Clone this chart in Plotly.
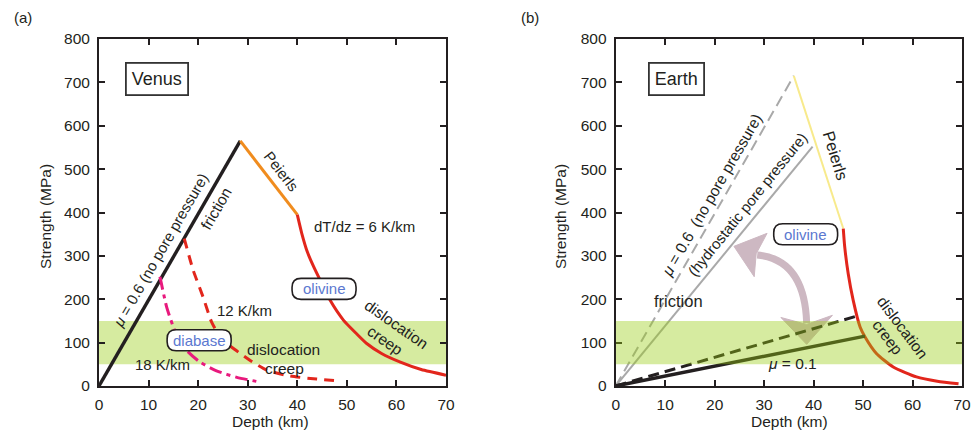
import plotly.graph_objects as go

# ---------------- data ----------------
depth_ticks = [0, 10, 20, 30, 40, 50, 60, 70]
strength_ticks = [0, 100, 200, 300, 400, 500, 600, 700, 800]
band_strength = [50, 150]

# Venus (a)
venus_friction_depth = [0, 28.5]
venus_friction_strength = [0, 565]
venus_peierls_depth = [28.5, 40]
venus_peierls_strength = [565, 395]
venus_creep6_depth = [40, 40.9, 42, 43.3, 45, 46.6, 49.3, 52, 54, 57, 60.8, 65, 70]
venus_creep6_strength = [395, 352, 310, 275, 235, 198, 152, 120, 98, 75, 55, 38, 25]
venus_creep12_depth = [17.2, 19.0, 21.0, 22.7, 24.75, 27.4, 30.5, 33.8, 38.5, 43.9, 47.95]
venus_creep12_strength = [340, 267, 205, 148, 108, 84, 59, 37, 23, 16, 12]
venus_creep18_depth = [12.3, 13.65, 15.3, 17.7, 20.4, 23.7, 27.8, 32.5]
venus_creep18_strength = [252, 182, 128, 82, 55, 35, 20, 9]

# Earth (b)
earth_nopore_depth = [0, 36]
earth_nopore_strength = [0, 715]
earth_hydro_depth = [0, 39.8]
earth_hydro_strength = [0, 552]
earth_peierls_depth = [36, 46]
earth_peierls_strength = [715, 363]
earth_creep_depth = [46, 46.3, 47, 48, 49.4, 50.4, 52.7, 56.1, 60.8, 65, 69.3]
earth_creep_strength = [363, 320, 259, 198, 136, 113, 75, 44, 21, 11, 5]
earth_mu01_depth = [0, 50.4]
earth_mu01_strength = [0, 115]
earth_mu01dash_depth = [0, 48.7]
earth_mu01dash_strength = [0, 161]

# ---------------- layout geometry ----------------
W, H = 977, 433
XD1 = [99 / W, 446 / W]
XD2 = [615.7 / W, 962 / W]
YD = [1 - 386 / H, 1 - 39 / H]
PX_X = 347 / 70.0
PX_Y = 347 / 800.0

BLACK = "#231f20"
RED = "#e2261c"
ORANGE = "#f08c1e"
PINK = "#e8197d"
GRAY = "#a9a9a9"
YELLOW = "#f8ea8c"
BLUE = "#5b78d0"
FONT = "Liberation Sans"

fig = go.Figure()

def line(x, y, color, width, dash="solid", ax=1):
    fig.add_trace(go.Scatter(
        x=x, y=y, mode="lines", line=dict(color=color, width=width, dash=dash, shape="spline", smoothing=0.6),
        xaxis="x" if ax == 1 else "x2", yaxis="y" if ax == 1 else "y2",
        hoverinfo="skip", showlegend=False))

# panel a
line(venus_friction_depth, venus_friction_strength, BLACK, 3.4)
line(venus_peierls_depth, venus_peierls_strength, ORANGE, 3)
line(venus_creep6_depth, venus_creep6_strength, RED, 3)
line(venus_creep12_depth, venus_creep12_strength, RED, 3, "10px,7px")
line(venus_creep18_depth, venus_creep18_strength, PINK, 3, "13px,5px,4px,5px")

# panel b
line(earth_nopore_depth, earth_nopore_strength, GRAY, 2, "11px,6px", 2)
line(earth_hydro_depth, earth_hydro_strength, GRAY, 2, "solid", 2)
line(earth_peierls_depth, earth_peierls_strength, YELLOW, 2, "solid", 2)
line(earth_creep_depth, earth_creep_strength, RED, 3, "solid", 2)
line(earth_mu01dash_depth, earth_mu01dash_strength, BLACK, 3, "11px,6px", 2)
line(earth_mu01_depth, earth_mu01_strength, BLACK, 3.4, "solid", 2)

shapes = []
# green band (a): below traces
shapes.append(dict(type="rect", xref="x", yref="y", x0=0, x1=70, y0=band_strength[0], y1=band_strength[1],
                   fillcolor="rgb(214,235,160)", line=dict(width=0), layer="below"))

# curved double arrow (b)
ARROW = "rgb(205,184,194)"
arrow_top = [(23.9, 322.0), (30.6, 352.0), (28.4, 305.0), (28.0, 252.0)]
arrow_bot = [(38.6, 96.0), (33.4, 158.0), (38.6, 142.0), (43.8, 163.0)]
arrow_shaft = [(28.6, 302.0), (38.2, 292.0), (38.6, 145.0)]
p = arrow_shaft
shapes.append(dict(type="path", xref="x2", yref="y2",
                   path=f"M {p[0][0]},{p[0][1]} Q {p[1][0]},{p[1][1]} {p[2][0]},{p[2][1]}",
                   line=dict(color=ARROW, width=7), layer="below"))
for tri in (arrow_top, arrow_bot):
    path = "M " + " L ".join(f"{a},{b}" for a, b in tri) + " Z"
    shapes.append(dict(type="path", xref="x2", yref="y2", path=path,
                       fillcolor=ARROW, line=dict(color=ARROW, width=1), layer="below"))

# rounded label boxes
def rbox(xc, yc, wpx, hpx, rpx, ax):
    hw = wpx / 2 / PX_X; hh = hpx / 2 / PX_Y
    rx = rpx / PX_X; ry = rpx / PX_Y
    x0, x1, y0, y1 = xc - hw, xc + hw, yc - hh, yc + hh
    path = (f"M {x0+rx},{y0} L {x1-rx},{y0} Q {x1},{y0} {x1},{y0+ry} L {x1},{y1-ry} "
            f"Q {x1},{y1} {x1-rx},{y1} L {x0+rx},{y1} Q {x0},{y1} {x0},{y1-ry} "
            f"L {x0},{y0+ry} Q {x0},{y0} {x0+rx},{y0} Z")
    return dict(type="path", xref="x" if ax == 1 else "x2", yref="y" if ax == 1 else "y2",
                path=path, fillcolor="white", line=dict(color=BLACK, width=1.6), layer="above")

shapes.append(rbox(45.4, 224, 64, 21, 9, 1))
shapes.append(rbox(20.2, 105.5, 64, 21, 9, 1))
shapes.append(rbox(38.4, 350, 64, 21, 9, 2))

# green band (b): translucent, above traces
shapes.append(dict(type="rect", xref="x2", yref="y2", x0=0, x1=70, y0=band_strength[0], y1=band_strength[1],
                   fillcolor="rgb(152,205,18)", opacity=0.4, line=dict(width=0), layer="above"))

fig.update_layout(shapes=shapes)

ann = []
def T(text, x, y, ax=1, size=15, angle=0, color=BLACK, **kw):
    d = dict(text=text, x=x, y=y, xref="x" if ax == 1 else "x2", yref="y" if ax == 1 else "y2",
             showarrow=False, textangle=angle, font=dict(family=FONT, size=size, color=color),
             xanchor="center", yanchor="middle")
    d.update(kw)
    ann.append(d)

# panel a text
T("<i>μ</i> = 0.6 (no pore pressure)", 12.5, 314, 1, 15, -60)
T("friction", 23.6, 410, 1, 15.5, -60)
T("Peierls", 36.8, 493.5, 1, 15, 52)
T("dT/dz = 6 K/km", 53.5, 368.8, 1, 15)
T("olivine", 45.4, 224, 1, 15, 0, BLUE)
T("dislocation", 60.05, 142.5, 1, 15.5, 35)
T("creep", 57.8, 106, 1, 15.5, 35)
T("12 K/km", 29.45, 173, 1, 15)
T("diabase", 20.2, 105.5, 1, 15, 0, BLUE)
T("dislocation", 37.3, 84, 1, 15.5)
T("creep", 37.5, 39.3, 1, 15.5)
T("18 K/km", 12.85, 50, 1, 15)
T("Venus", 11.8, 706.7, 1, 18, bordercolor="#333", borderwidth=1.8, borderpad=5, bgcolor="white")

# panel b text
T("<i>μ</i> = 0.6  (no pore pressure)", 19.3, 440, 2, 15.5, -60)
T("(hydrostatic pore pressure)", 26.6, 418, 2, 15, -51)
T("friction", 12.77, 195.6, 2, 16.5)
T("Peierls", 44.45, 532.8, 2, 16.5, 73)
T("olivine", 38.4, 350, 2, 15, 0, BLUE)
T("dislocation", 58.0, 135, 2, 15.5, 53)
T("creep", 55.0, 111.7, 2, 15.5, 53)
T("<i>μ</i> = 0.1", 35.8, 51.7, 2, 15.5)
T("Earth", 12.27, 707, 2, 18, bordercolor="#333", borderwidth=1.8, borderpad=5, bgcolor="white")

# panel labels and axis titles (paper coords)
def P(text, px, py, size=15, angle=0):
    ann.append(dict(text=text, x=px / W, y=1 - py / H, xref="paper", yref="paper", showarrow=False,
                    textangle=angle, font=dict(family=FONT, size=size, color=BLACK),
                    xanchor="center", yanchor="middle"))

P("(a)", 23, 17)
P("(b)", 530, 17)
P("Strength (MPa)", 45, 217, 15.5, -90)
P("Strength (MPa)", 560, 217, 15.5, -90)
P("Depth (km)", 270, 421.7, 15.5)
P("Depth (km)", 789.3, 421.7, 15.5)

fig.update_layout(annotations=ann)

axis_common = dict(showline=True, linecolor=BLACK, linewidth=2, mirror="ticks", ticks="inside",
                   ticklen=6, tickwidth=2, tickcolor=BLACK, showgrid=False, zeroline=False,
                   tickfont=dict(family=FONT, size=15.5, color=BLACK), automargin=False, fixedrange=True)

fig.update_layout(
    width=W, height=H, margin=dict(l=0, r=0, t=0, b=0),
    paper_bgcolor="white", plot_bgcolor="white", showlegend=False,
    xaxis=dict(domain=XD1, range=[0, 70], tickvals=depth_ticks, anchor="y", ticklabelstandoff=3, **axis_common),
    yaxis=dict(domain=YD, range=[0, 800], tickvals=strength_ticks, anchor="x", ticklabelstandoff=4, **axis_common),
    xaxis2=dict(domain=XD2, range=[0, 70], tickvals=depth_ticks, anchor="y2", ticklabelstandoff=3, **axis_common),
    yaxis2=dict(domain=YD, range=[0, 800], tickvals=strength_ticks, anchor="x2", ticklabelstandoff=4, **axis_common),
)

fig.write_html("out.html", config={"displayModeBar": False},
               post_script="document.body.style.margin='0px';document.body.style.overflow='hidden';")
